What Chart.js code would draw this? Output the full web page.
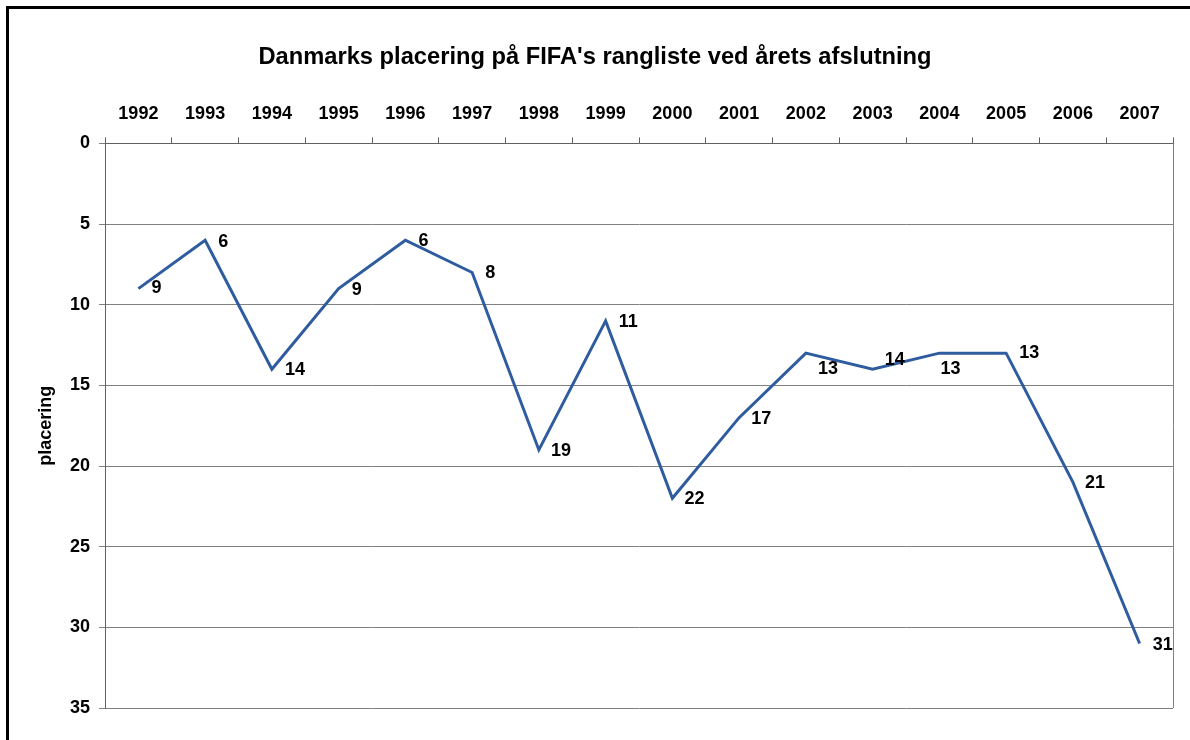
<!DOCTYPE html>
<html>
<head>
<meta charset="utf-8">
<script src="https://cdn.jsdelivr.net/npm/chart.js@4/dist/chart.umd.min.js"></script>
<style>
  html, body { margin: 0; padding: 0; background: #fff; overflow: hidden; }
  #wrap { position: relative; width: 1190px; height: 740px; }
  #frame { position: absolute; left: 6px; top: 6px; width: 1300px; height: 900px; border: 3px solid #000; }
  #canvas { position: absolute; left: 0; top: 0; }
</style>
</head>
<body>
<div id="wrap">
  <div id="frame"></div>
  <canvas id="canvas" width="1190" height="740"></canvas>
</div>
<script>
// years (categories)
var years = ["1992", "1993", "1994", "1995", "1996", "1997", "1998", "1999",
  "2000", "2001", "2002", "2003", "2004", "2005", "2006", "2007"];
// ranking at year end
var placering = [9, 6, 14, 9, 6, 8, 19, 11, 22, 17, 13, 14, 13, 13, 21, 31];
var yTicks = [0, 5, 10, 15, 20, 25, 30, 35];

// label nudges (style only) - a few labels sit below/above like in the original
var labelDx = [13, 13, 13, 13, 13, 13, 12, 13, 12, 12, 12, 12, 1, 13, 12, 13];
var labelDy = [-1, 2, 1, 1, 1, 1, 1, 1, 1, 1, 16, -9, 16, 0, 1, 2];

var FONT = "'Liberation Sans', Arial, sans-serif";

// draws the value labels next to each point
const valueLabels = {
  id: "valueLabels",
  afterDatasetsDraw(chart) {
    const ctx = chart.ctx;
    const meta = chart.getDatasetMeta(0);
    ctx.save();
    ctx.font = "bold 18px " + FONT;
    ctx.fillStyle = "#000";
    ctx.textAlign = "left";
    ctx.textBaseline = "middle";
    meta.data.forEach((pt, i) => {
      ctx.fillText(String(placering[i]), pt.x + labelDx[i], pt.y + labelDy[i]);
    });
    ctx.restore();
  },
};

// right edge of plot area
const plotBorder = {
  id: "plotBorder",
  beforeDatasetsDraw(chart) {
    const a = chart.chartArea;
    const ctx = chart.ctx;
    ctx.save();
    ctx.strokeStyle = "#808080";
    ctx.lineWidth = 1;
    ctx.beginPath();
    ctx.moveTo(Math.round(a.right) + 0.5, a.top);
    ctx.lineTo(Math.round(a.right) + 0.5, a.bottom);
    ctx.stroke();
    ctx.restore();
  },
};

const ctx = document.getElementById("canvas").getContext("2d");

const myChart = new Chart(ctx, {
  type: "line",
  data: {
    labels: years,
    datasets: [
      {
        label: "placering",
        data: placering,
        borderColor: "#2F5C9F",
        borderWidth: 3,
        pointRadius: 0,
        tension: 0,
        fill: false,
      },
    ],
  },
  options: {
    responsive: false,
    animation: false,
    layout: { padding: { left: 17, right: 17, top: 0, bottom: 32 } },
    plugins: {
      legend: { display: false },
      tooltip: { enabled: false },
      title: {
        display: true,
        text: "Danmarks placering på FIFA's rangliste ved årets afslutning",
        color: "#000",
        font: { family: FONT, size: 23.7, weight: "bold", lineHeight: 1.2 },
        padding: { top: 43, bottom: 10 },
      },
    },
    scales: {
      x: {
        position: "top",
        offset: true,
        grid: {
          display: true,
          offset: true,
          drawOnChartArea: false,
          drawTicks: true,
          tickLength: 6,
          color: "#606060",
        },
        border: { display: true, color: "#606060", width: 1 },
        ticks: {
          color: "#000",
          padding: 13,
          maxRotation: 0,
          autoSkip: false,
          font: { family: FONT, size: 18, weight: "bold" },
        },
        afterFit: function (scale) {
          scale.height = 62;
        },
      },
      y: {
        reverse: true,
        min: 0,
        max: 35,
        afterBuildTicks: function (scale) {
          scale.ticks = yTicks.map(function (v) { return { value: v }; });
        },
        grid: {
          color: "#808080",
          lineWidth: 1,
          tickLength: 6,
        },
        border: { display: true, color: "#606060", width: 1 },
        ticks: {
          color: "#000",
          padding: 9,
          font: { family: FONT, size: 18, weight: "bold" },
        },
        title: {
          display: true,
          text: "placering",
          color: "#000",
          padding: { top: 18, bottom: 0 },
          font: { family: FONT, size: 18, weight: "bold" },
        },
        afterFit: function (scale) {
          scale.width = 88;
        },
      },
    },
  },
  plugins: [valueLabels, plotBorder],
});
</script>
</body>
</html>
